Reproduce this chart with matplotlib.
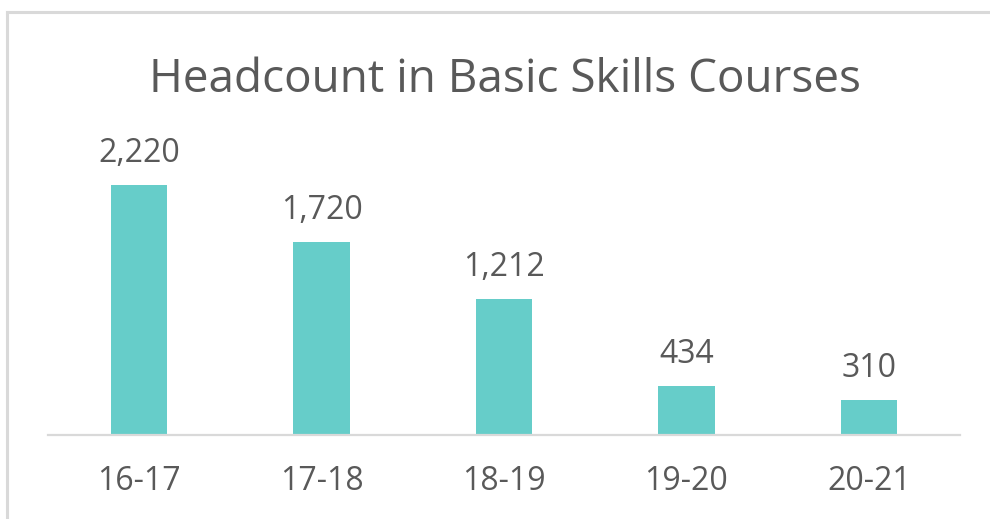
import matplotlib
matplotlib.use("Agg")
import matplotlib.pyplot as plt
from matplotlib.lines import Line2D

years = ["16-17", "17-18", "18-19", "19-20", "20-21"]
headcount = [2220, 1720, 1212, 434, 310]

BAR = "#66CDC9"
TXT = "#595959"
GRID = "#D9D9D9"

plt.rcParams["font.family"] = ["Open Sans", "DejaVu Sans"]

fig = plt.figure(figsize=(9.9, 5.19), dpi=100)
W, H = 990, 519

# chart frame (only top and left edges show in the crop)
fig.add_artist(Line2D([6.5 / W, 6.5 / W], [0, 1 - 11.5 / H], transform=fig.transFigure,
                      color=GRID, lw=2.2))
fig.add_artist(Line2D([6.5 / W, 1], [1 - 11.5 / H, 1 - 11.5 / H], transform=fig.transFigure,
                      color=GRID, lw=2.2))

ax = fig.add_axes([48 / W, 84 / H, 912 / W, 281 / H])
x = range(len(years))
ax.bar(x, headcount, width=0.31, color=BAR, zorder=2)
ax.set_xlim(-0.5, 4.5)
ax.set_ylim(0, 2500)
for s in ["top", "right", "left"]:
    ax.spines[s].set_visible(False)
ax.spines["bottom"].set_color(GRID)
ax.spines["bottom"].set_linewidth(1.6)
ax.set_yticks([])
ax.set_xticks([])

# px -> pt at 100 dpi
pt = 72 / 100
for i, (yr, v) in enumerate(zip(years, headcount)):
    ax.annotate(f"{v:,}", (i, v), xytext=(0, 23 * pt), textcoords="offset points",
                ha="center", va="baseline", fontsize=23, color=TXT)
    ax.annotate(yr, (i, 0), xycoords=("data", "axes fraction"), xytext=(0, -55 * pt),
                textcoords="offset points", ha="center", va="baseline",
                fontsize=23, color=TXT)

fig.text(505 / W, 1 - 92 / H, "Headcount in Basic Skills Courses", ha="center",
         va="baseline", fontsize=33, color=TXT)

fig.savefig("out.png", dpi=100)
